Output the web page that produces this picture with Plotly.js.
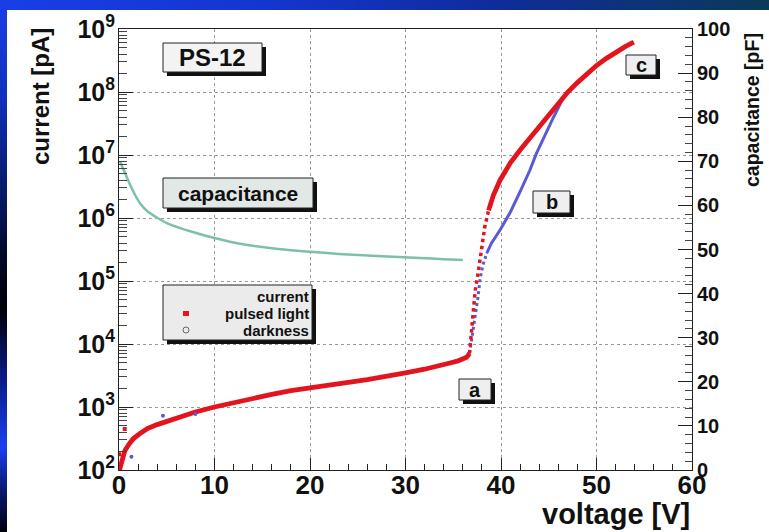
<!DOCTYPE html>
<html><head><meta charset="utf-8">
<script src="https://cdn.plot.ly/plotly-3.0.1.min.js"></script>
<style>
html,body{margin:0;padding:0;width:769px;height:532px;overflow:hidden;background:#fff;}
#topband{position:absolute;left:0;top:0;width:769px;height:10px;
 background:linear-gradient(to right,#1a3ee6 0%,#1535d0 35%,#0f2c9a 65%,#0b3a58 100%);}
#leftband{position:absolute;left:0;top:0;width:7px;height:532px;
 background:linear-gradient(to bottom,#1a3ee6 0%,#1030c0 18%,#08207a 32%,#02082a 48%,#000008 58%,#0a1c90 72%,#1a40f0 84%,#081a70 92%,#000010 100%);}
#chart{position:absolute;left:7px;top:10px;width:762px;height:522px;}
</style></head><body>
<div id="topband"></div><div id="leftband"></div><div id="chart"></div>
<script>
// ---- data ----
// capacitance [pF] vs voltage [V]
const capV = [0.1, 0.4, 0.8, 1.2, 1.7, 2.2, 3, 4, 5, 6.5, 8, 10, 12.7, 16, 20, 23, 27, 31.5, 34, 36];
const capC = [70, 68.5, 66.5, 64.5, 62.3, 60.5, 58.6, 57.2, 56, 54.8, 53.8, 52.6, 51.3, 50.3, 49.5, 49, 48.5, 48.1, 47.8, 47.6];

// current [pA], pulsed light
const lightLowV = [0.05, 0.2, 0.4, 0.6, 1.0, 1.5, 2.2, 3.0, 4.0, 5.0, 6.5, 8.0, 10, 12, 14, 16, 18, 20, 22, 24, 26, 28, 30, 32, 34, 35.5, 36.4, 36.7];
const lightLowI = [100, 126, 158, 200, 251, 316, 380, 457, 525, 589, 708, 832, 1000, 1175, 1365, 1585, 1820, 2040, 2240, 2455, 2720, 3020, 3470, 3980, 4680, 5370, 6170, 7080];
const lightSteepV = [36.7, 36.9, 37.1, 37.3, 37.6, 37.9, 38.3, 38.7];
const lightSteepI = [7080, 15800, 38900, 70800, 132000, 282000, 724000, 1320000];
const lightHighV = [38.7, 39.2, 39.9, 40.5, 41, 42, 43, 44, 45, 46, 46.5, 47, 48, 49, 50, 51, 52, 53, 53.9];
const lightHighI = [1320000, 2290000, 3980000, 5750000, 7590000, 12000000, 18200000, 28200000, 43700000, 67600000, 83200000, 100000000, 141000000, 195000000, 263000000, 339000000, 427000000, 525000000, 617000000];
const lightOutV = [0.0, 0.6];
const lightOutI = [178, 447];

// current [pA], darkness
const darkLowV = [0.05, 0.3, 0.6, 1.0, 2.0, 3.0, 4.0, 6.5, 10, 15, 20, 25, 30, 34, 36.4, 36.7];
const darkLowI = [100, 141, 209, 250, 355, 457, 525, 708, 1000, 1480, 2040, 2570, 3470, 4680, 6170, 7080];
const darkSteepV = [36.7, 37.0, 37.3, 37.6, 37.8, 38.1, 38.5];
const darkSteepI = [7080, 14100, 26900, 56200, 105000, 178000, 275000];
const darkHighV = [38.5, 39.0, 39.9, 41, 42, 43, 43.7, 44.5, 45.5, 46.5, 47, 48, 50, 52, 53.9];
const darkHighI = [275000, 398000, 646000, 1260000, 2630000, 5620000, 10500000, 19100000, 39800000, 79400000, 100000000, 141000000, 263000000, 427000000, 617000000];
const darkOutV = [1.3, 4.6, 8.0];
const darkOutI = [162, 724, 776];

// axis ticks
const xTicks = [0, 10, 20, 30, 40, 50, 60];
const yTickVals = [1e2, 1e3, 1e4, 1e5, 1e6, 1e7, 1e8, 1e9];
const yTickText = ['10<sup>2</sup>', '10<sup>3</sup>', '10<sup>4</sup>', '10<sup>5</sup>', '10<sup>6</sup>', '10<sup>7</sup>', '10<sup>8</sup>', '10<sup>9</sup>'];
const y2Ticks = [0, 10, 20, 30, 40, 50, 60, 70, 80, 90, 100];

// ---- drawing ----
const RED = '#e4141e', BLUE = '#5a5ad2', GREEN = '#7cc0aa';
const FONT = 'Liberation Sans, Arial, Helvetica, sans-serif';

const traces = [
  {x: capV, y: capC, yaxis: 'y2', mode: 'lines', line: {color: GREEN, width: 2.5, shape: 'spline', smoothing: 0.6}},
  {x: darkLowV, y: darkLowI, mode: 'lines', line: {color: BLUE, width: 3}},
  {x: darkSteepV, y: darkSteepI, mode: 'lines', line: {color: BLUE, width: 3, dash: 'dot'}},
  {x: darkHighV, y: darkHighI, mode: 'lines', line: {color: BLUE, width: 3}},
  {x: lightLowV, y: lightLowI, mode: 'lines', line: {color: RED, width: 4.8}},
  {x: lightSteepV, y: lightSteepI, mode: 'lines', line: {color: RED, width: 3.5, dash: 'dot'}},
  {x: lightHighV, y: lightHighI, mode: 'lines', line: {color: RED, width: 4.8}},
  {x: lightOutV, y: lightOutI, mode: 'markers', marker: {color: RED, size: 4, symbol: 'square'}},
  {x: darkOutV, y: darkOutI, mode: 'markers', marker: {color: BLUE, size: 4}}
];

// plot area in page pixels: x 119..692, y 29..470
const fx = p => (p - 119) / 573;
const fy = p => (470 - p) / 441;

const shapes = [];
const annotations = [];
function pave(x0, y0, x1, y1, fill, label, size) {
  shapes.push({type: 'rect', xref: 'paper', yref: 'paper', layer: 'above',
    x0: fx(x0 + 4), x1: fx(x1 + 4), y0: fy(y0 + 4), y1: fy(y1 + 4),
    fillcolor: '#111', line: {width: 0}});
  shapes.push({type: 'rect', xref: 'paper', yref: 'paper', layer: 'above',
    x0: fx(x0), x1: fx(x1), y0: fy(y0), y1: fy(y1),
    fillcolor: fill, line: {color: '#222', width: 1}});
  if (label) annotations.push({xref: 'paper', yref: 'paper', x: fx((x0 + x1) / 2), y: fy((y0 + y1) / 2),
    text: label, showarrow: false, xanchor: 'center', yanchor: 'middle',
    font: {family: FONT, size: size, color: '#111', weight: 700}});
}
pave(163, 43, 262, 72, '#f3f3f3', 'PS-12', 24);
pave(163, 178, 313, 208, '#e2e8e5', 'capacitance', 21);
pave(163, 285, 312, 340, '#ebebeb', null, 14);
pave(459, 379, 491, 400, '#efefef', 'a', 20);
pave(533, 191, 570, 213, '#efefef', 'b', 20);
pave(626, 55, 656, 75, '#efefef', 'c', 20);

// legend contents
const legTxt = [['current', 296], ['pulsed light', 313], ['darkness', 330]];
legTxt.forEach(([t, py]) => annotations.push({xref: 'paper', yref: 'paper', x: fx(310), y: fy(py),
  text: t, showarrow: false, xanchor: 'right', yanchor: 'middle', borderpad: 0,
  font: {family: FONT, size: 15, color: '#111', weight: 700}}));
shapes.push({type: 'rect', xref: 'paper', yref: 'paper', layer: 'above',
  x0: fx(183), x1: fx(189), y0: fy(316), y1: fy(311), fillcolor: RED, line: {width: 0}});
shapes.push({type: 'circle', xref: 'paper', yref: 'paper', layer: 'above',
  x0: fx(183), x1: fx(189), y0: fy(333), y1: fy(327), fillcolor: 'rgba(0,0,0,0)', line: {color: '#666', width: 1}});

// axis titles
annotations.push({xref: 'paper', yref: 'paper', x: fx(40), y: fy(97), text: 'current [pA]', textangle: -90,
  showarrow: false, xanchor: 'center', yanchor: 'middle', font: {family: FONT, size: 24, color: '#111', weight: 700}});
annotations.push({xref: 'paper', yref: 'paper', x: fx(752), y: fy(110), text: 'capacitance [pF]', textangle: -90,
  showarrow: false, xanchor: 'center', yanchor: 'middle', font: {family: FONT, size: 19.5, color: '#111', weight: 700}});
annotations.push({xref: 'paper', yref: 'paper', x: fx(692), y: fy(514), text: 'voltage [V]',
  showarrow: false, xanchor: 'right', yanchor: 'middle', font: {family: FONT, size: 29, color: '#111', weight: 700}});

const layout = {
  width: 762, height: 522,
  margin: {l: 112, r: 77, t: 19, b: 62, pad: 0},
  paper_bgcolor: '#ffffff', plot_bgcolor: '#ffffff',
  showlegend: false,
  xaxis: {range: [0, 60], tickvals: xTicks, ticktext: xTicks.map(String),
    showline: true, mirror: true, linecolor: '#222', linewidth: 1,
    ticks: 'inside', ticklen: 12, tickcolor: '#222', ticklabelstandoff: -8,
    minor: {dtick: 2, tick0: 0, ticks: 'inside', ticklen: 6, tickcolor: '#222', showgrid: false},
    showgrid: true, gridcolor: '#999', griddash: 'dot', gridwidth: 1, zeroline: false,
    tickfont: {family: FONT, size: 26, color: '#111', weight: 700}},
  yaxis: {type: 'log', range: [2, 9], tickvals: yTickVals, ticktext: yTickText,
    showline: true, linecolor: '#222', linewidth: 1,
    ticks: 'inside', ticklen: 14, tickcolor: '#222', ticklabelstandoff: -2,
    minor: {dtick: 'D1', ticks: 'inside', ticklen: 8, tickcolor: '#444', showgrid: false},
    showgrid: true, gridcolor: '#999', griddash: 'dot', gridwidth: 1, zeroline: false,
    tickfont: {family: FONT, size: 25, color: '#111', weight: 700}},
  yaxis2: {overlaying: 'y', side: 'right', range: [0, 100], tickvals: y2Ticks, ticktext: y2Ticks.map(String),
    showline: true, linecolor: '#222', linewidth: 1,
    ticks: 'inside', ticklen: 14, tickcolor: '#222',
    minor: {dtick: 2, tick0: 0, ticks: 'inside', ticklen: 7, tickcolor: '#444', showgrid: false},
    showgrid: false, zeroline: false,
    tickfont: {family: FONT, size: 20, color: '#111', weight: 700}},
  shapes: shapes,
  annotations: annotations
};

Plotly.newPlot('chart', traces, layout, {displayModeBar: false, staticPlot: true});
</script>
</body></html>
